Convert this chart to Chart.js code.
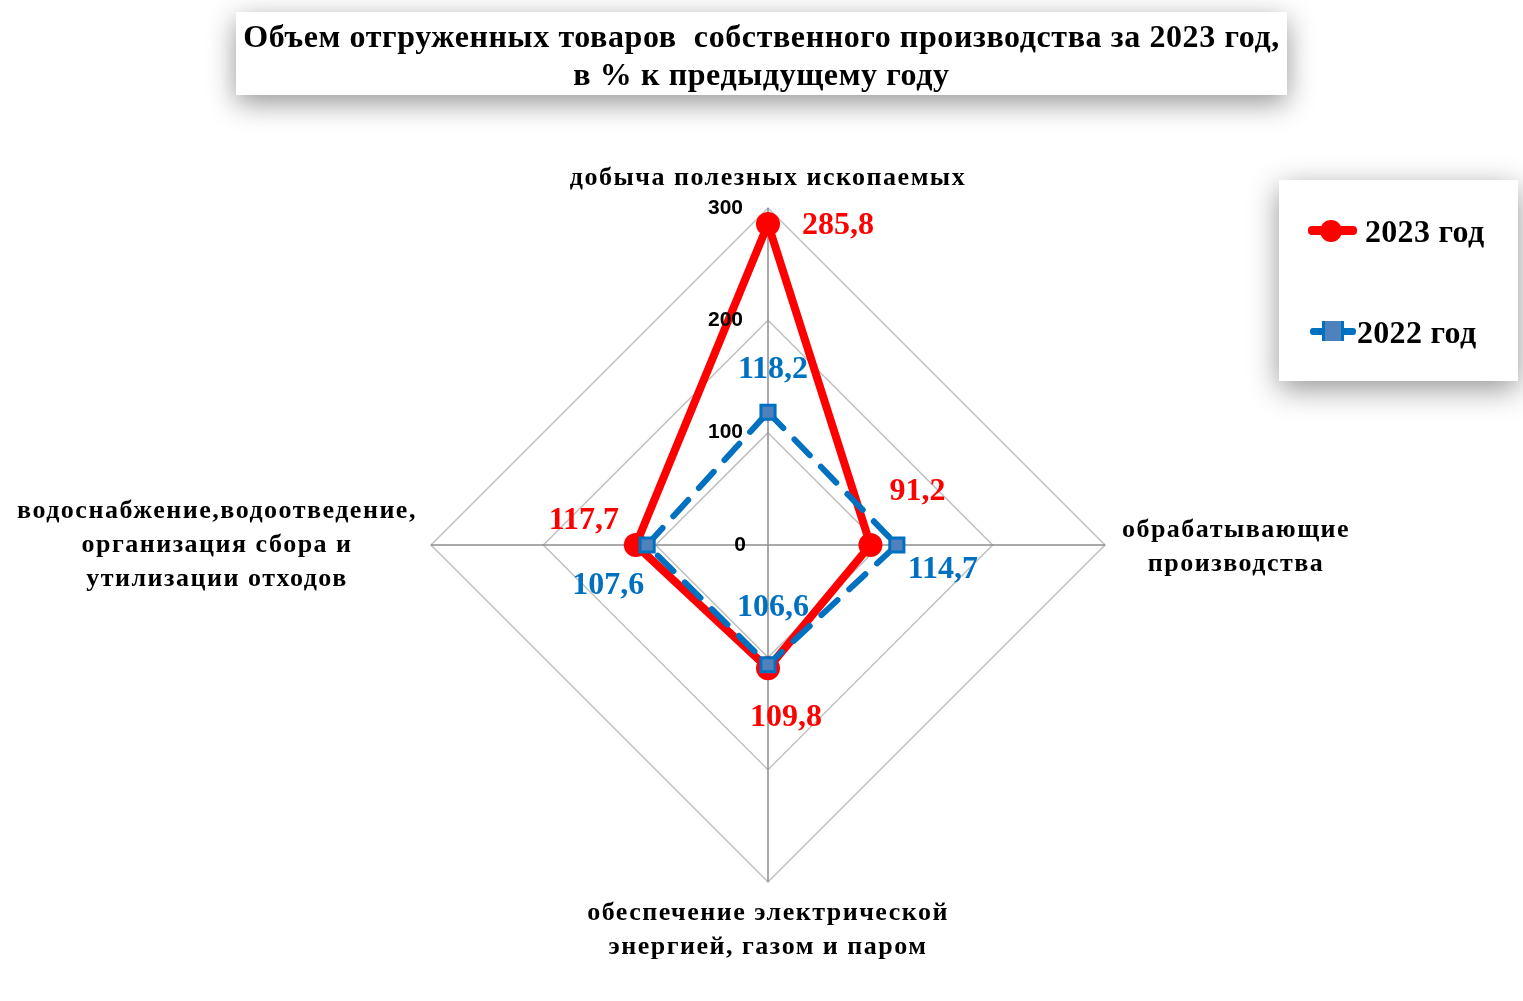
<!DOCTYPE html>
<html lang="ru">
<head>
<meta charset="utf-8">
<script src="https://cdn.jsdelivr.net/npm/chart.js@4.4.1/dist/chart.umd.min.js"></script>
<style>
  body { margin: 0; background: #fff; font-family: "Liberation Serif", serif; }
  #wrap { position: relative; width: 1523px; height: 1001px; overflow: hidden; }
  #radar { position: absolute; left: 0; top: 0; }
  .title {
    position: absolute; left: 236px; top: 12px; width: 1051px; height: 83px;
    background: #fff; box-shadow: 0 8px 28px rgba(0,0,0,0.42);
    font-weight: bold; font-size: 32px; line-height: 38px; text-align: center;
    letter-spacing: 0.6px; padding-top: 5px; box-sizing: border-box; color: #000;
  }
  .legend {
    position: absolute; left: 1279px; top: 180px; width: 239px; height: 201px;
    background: #fff; box-shadow: 0 8px 28px rgba(0,0,0,0.42);
  }
  .item { position: absolute; font-weight: bold; font-size: 32px; line-height: 32px; color: #000; letter-spacing: 0.3px; }
  .mk { position: absolute; }
</style>
</head>
<body>
<div id="wrap">
  <canvas id="radar" width="1523" height="1001"></canvas>
  <div class="title">Объем отгруженных товаров&nbsp; собственного производства за 2023 год,<br>в % к предыдущему году</div>
  <div class="legend">
    <div class="mk" style="left:29px;top:46px;width:49px;height:9px;background:#ff0000;border-radius:4px"></div>
    <div class="mk" style="left:41px;top:40px;width:22px;height:22px;background:#ff0000;border-radius:50%"></div>
    <div class="item" style="left:86px;top:35px">2023 год</div>
    <div class="mk" style="left:31px;top:148px;width:46px;height:7px;background:#0070c0;border-radius:3px"></div>
    <div class="mk" style="left:43px;top:141px;width:16px;height:20px;background:#4f81bd;border-left:3px solid #0070c0;border-right:3px solid #0070c0"></div>
    <div class="item" style="left:78px;top:136px">2022 год</div>
  </div>
</div>
<script>
const categories = [
  ["добыча полезных ископаемых"],
  ["обрабатывающие", "производства"],
  ["обеспечение электрической", "энергией, газом и паром"],
  ["водоснабжение,водоотведение,", "организация сбора и", "утилизации отходов"]
];
const values2023 = [285.8, 91.2, 109.8, 117.7];
const values2022 = [118.2, 114.7, 106.6, 107.6];
const tickValues = [0, 100, 200, 300];

// label offsets from each point (px)
const labelOffsets2023 = [[70, 2], [47, -53], [18, 49], [-52, -24]];
const labelOffsets2022 = [[5, -42], [46, 25], [5, -57], [-39, 41]];
const categoryOffsets = [[0, -30], [131, 2], [0, 48], [-214, 0]];

const fmt = v => String(v).replace(".", ",");

const labelsPlugin = {
  id: "labelsPlugin",
  afterDatasetsDraw(chart) {
    const ctx = chart.ctx;
    const r = chart.scales.r;
    ctx.save();
    ctx.textBaseline = "middle";

    // tick labels left of the vertical axis
    ctx.font = "bold 21px 'Liberation Sans', sans-serif";
    ctx.fillStyle = "#000";
    ctx.textAlign = "right";
    tickValues.forEach(t => {
      const p = r.getPointPositionForValue(0, t);
      ctx.fillText(String(t), p.x - (t === 0 ? 22 : 25), p.y);
    });

    // category labels
    ctx.textAlign = "center";
    ctx.font = "bold 26px 'Liberation Serif', serif";
    ctx.letterSpacing = "1.5px";
    categories.forEach((lines, i) => {
      const p = r.getPointPositionForValue(i, 300);
      const cx = p.x + categoryOffsets[i][0];
      const cy = p.y + categoryOffsets[i][1];
      const lh = 34;
      lines.forEach((ln, j) => {
        ctx.fillText(ln, cx, cy + (j - (lines.length - 1) / 2) * lh);
      });
    });
    ctx.letterSpacing = "0px";

    // data labels
    ctx.font = "bold 32px 'Liberation Serif', serif";
    ctx.fillStyle = "#ff0000";
    values2023.forEach((v, i) => {
      const p = r.getPointPositionForValue(i, v);
      ctx.fillText(fmt(v), p.x + labelOffsets2023[i][0], p.y + labelOffsets2023[i][1]);
    });
    ctx.fillStyle = "#0070c0";
    values2022.forEach((v, i) => {
      const p = r.getPointPositionForValue(i, v);
      ctx.fillText(fmt(v), p.x + labelOffsets2022[i][0], p.y + labelOffsets2022[i][1]);
    });
    ctx.restore();
  }
};

new Chart(document.getElementById("radar"), {
  type: "radar",
  data: {
    labels: categories,
    datasets: [
      {
        label: "2023 год",
        data: values2023,
        order: 1,
        borderColor: "#ff0000",
        borderWidth: 8,
        borderJoinStyle: "round",
        backgroundColor: "#ff0000",
        pointRadius: 12,
        pointBackgroundColor: "#ff0000",
        pointBorderWidth: 0,
        fill: false
      },
      {
        label: "2022 год",
        data: values2022,
        order: 0,
        borderColor: "#0070c0",
        borderWidth: 6,
        borderDash: [22, 16],
        borderCapStyle: "round",
        backgroundColor: "#4f81bd",
        pointStyle: "rect",
        pointRadius: 10,
        pointBackgroundColor: "#4f81bd",
        pointBorderColor: "#0070c0",
        pointBorderWidth: 3,
        fill: false
      }
    ]
  },
  options: {
    responsive: false,
    animation: false,
    layout: { padding: { top: 208, bottom: 119, left: 431, right: 418 } },
    plugins: { legend: { display: false }, tooltip: { enabled: false } },
    elements: { line: { tension: 0 } },
    scales: {
      r: {
        min: 0,
        max: 300,
        ticks: { stepSize: 100, display: false },
        grid: { color: "#c0c0c0", lineWidth: 1.5 },
        angleLines: { color: "#8c8c8c", lineWidth: 1.5 },
        pointLabels: { display: false }
      }
    }
  },
  plugins: [labelsPlugin]
});
</script>
</body>
</html>
